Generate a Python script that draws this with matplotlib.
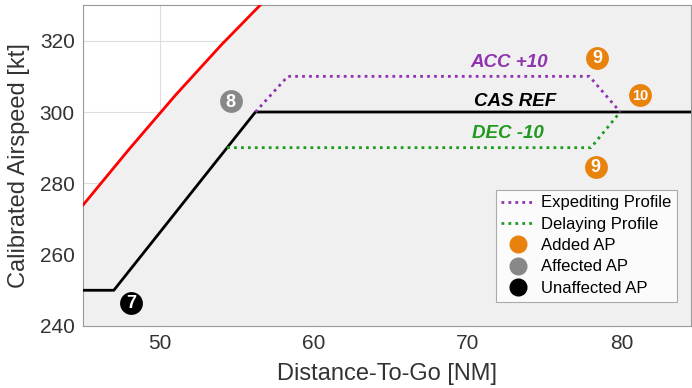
import matplotlib
matplotlib.use("Agg")
import matplotlib.pyplot as plt
from matplotlib.lines import Line2D

plt.rcParams['font.family'] = ['Liberation Sans', 'DejaVu Sans']

# Data
limit_x = [45, 48, 51, 54, 56.65]
limit_y = [273.9, 289.6, 304.7, 318.9, 330.6]

ref_x = [45, 47.0, 56.2, 85]
ref_y = [250, 250, 300, 300]

acc_x = [56.2, 58.3, 77.9, 79.9]
acc_y = [300, 310, 310, 300]

dec_x = [54.36, 78.0, 79.9]
dec_y = [290, 290, 300]

ap_x = [48.1, 54.6, 78.4, 81.2, 78.3]
ap_y = [246.5, 303.0, 315.2, 304.8, 284.6]
ap_labels = ['7', '8', '9', '10', '9']
ap_kind = ['unaffected', 'affected', 'added', 'added', 'added']

text_labels = ['ACC +10', 'CAS REF', 'DEC -10']
text_x = [72.7, 73.1, 72.6]
text_y = [313.8, 303.0, 294.1]

xlim = (45, 84.5)
ylim = (240, 330)
xticks = [50, 60, 70, 80]
yticks = [240, 260, 280, 300, 320]

purple = '#9033b0'
green = '#1f9a1f'
orange = '#e8820c'
gray = '#888888'
kind_color = {'unaffected': 'black', 'affected': gray, 'added': orange}

fig = plt.figure(figsize=(6.92, 3.88), dpi=100)
ax = fig.add_axes([0.12, 0.16, 0.8786, 0.827])
ax.set_xlim(*xlim)
ax.set_ylim(*ylim)
ax.set_xticks(xticks)
ax.set_yticks(yticks)
ax.grid(True, color='#dddddd', linewidth=0.8, zorder=0)
ax.set_axisbelow(True)

# gray feasible region
poly_x = limit_x + [xlim[1] + 1, xlim[1] + 1, xlim[0]]
poly_y = limit_y + [limit_y[-1], ylim[0], ylim[0]]
ax.fill(poly_x, poly_y, color='#f0f0f0', zorder=1, lw=0)

ax.plot(limit_x, limit_y, color='red', lw=2, zorder=3)
ax.plot(ref_x, ref_y, color='black', lw=2, zorder=3)
ax.plot(acc_x, acc_y, color=purple, lw=2, ls=(0, (1, 1.5)), zorder=4)
ax.plot(dec_x, dec_y, color=green, lw=2, ls=(0, (1, 1.5)), zorder=4)

for x, y, lab, k in zip(ap_x, ap_y, ap_labels, ap_kind):
    ax.scatter([x], [y], s=270, color=kind_color[k], zorder=5, lw=0)
    ax.text(x, y - 0.3, lab, color='white', fontsize=13 if len(lab) == 1 else 10.5,
            fontweight='bold', ha='center', va='center', zorder=6)

tcolors = [purple, 'black', green]
for lab, x, y, c in zip(text_labels, text_x, text_y, tcolors):
    ax.text(x, y, lab, color=c, fontsize=13.5, fontweight='bold', style='italic',
            ha='center', va='center', zorder=6)

for s in ax.spines.values():
    s.set_color('#999999')
ax.tick_params(axis='both', length=0, labelsize=15, colors='#333333', pad=6)
ax.set_xlabel('Distance-To-Go [NM]', fontsize=17, color='#333333', labelpad=7)
ax.set_ylabel('Calibrated Airspeed [kt]', fontsize=17, color='#333333', labelpad=7)

handles = [
    Line2D([], [], color=purple, lw=2, ls=(0, (1, 1.5))),
    Line2D([], [], color=green, lw=2, ls=(0, (1, 1.5))),
    Line2D([], [], color=orange, marker='o', ls='none', markersize=12),
    Line2D([], [], color=gray, marker='o', ls='none', markersize=12),
    Line2D([], [], color='black', marker='o', ls='none', markersize=12),
]
labels = ['Expediting Profile', 'Delaying Profile', 'Added AP', 'Affected AP', 'Unaffected AP']
leg = ax.legend(handles, labels, loc='lower right', fontsize=12, frameon=True,
                fancybox=False, edgecolor='#999999', facecolor='white',
                handlelength=2.0, handletextpad=0.35, labelspacing=0.38,
                borderpad=0.35, bbox_to_anchor=(0.99, 0.05))
leg.get_frame().set_linewidth(0.8)
leg.set_zorder(7)

fig.savefig('out.png', dpi=100)
